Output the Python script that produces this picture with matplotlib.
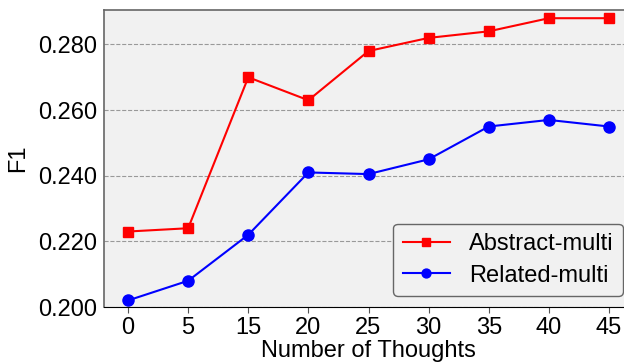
import matplotlib
matplotlib.use("Agg")
import matplotlib.pyplot as plt
import numpy as np

plt.rcParams['font.family'] = ['Liberation Sans', 'DejaVu Sans']

thoughts = ['0', '5', '15', '20', '25', '30', '35', '40', '45']
abstract_multi = [0.223, 0.224, 0.270, 0.263, 0.278, 0.282, 0.284, 0.288, 0.288]
related_multi = [0.202, 0.208, 0.222, 0.241, 0.2405, 0.245, 0.255, 0.257, 0.255]

fig = plt.figure(figsize=(6.24, 3.63), dpi=100)
# axes runs a bit past the right edge like the original crop
ax = fig.add_axes([104 / 624, 56 / 363, 529 / 624, 297 / 363])
ax.set_facecolor('#f1f1f1')

x = np.arange(len(thoughts))
ax.plot(x, abstract_multi, color='red', marker='s', markersize=7.8,
        linewidth=1.5, label='Abstract-multi')
ax.plot(x, related_multi, color='blue', marker='o', markersize=8,
        linewidth=1.5, label='Related-multi')

ax.set_xticks(x)
ax.set_xticklabels(thoughts)
ax.set_xlim(-0.4, 8.4)
ax.set_ylim(0.2, 0.2905)
ax.set_yticks([0.200, 0.220, 0.240, 0.260, 0.280])
ax.set_yticklabels(['0.200', '0.220', '0.240', '0.260', '0.280'])
ax.yaxis.grid(True, linestyle='--', color='#999999', linewidth=0.8)
ax.set_axisbelow(True)
ax.tick_params(labelsize=17)
ax.tick_params(axis='x', length=4, color='#555555', pad=3)
ax.tick_params(axis='y', length=0, pad=5)

for side in ['left', 'top']:
    ax.spines[side].set_color('#666666')
    ax.spines[side].set_linewidth(1.2)
ax.spines['right'].set_visible(False)
ax.spines['bottom'].set_color('black')

ax.set_xlabel('Number of Thoughts', fontsize=17, labelpad=1)
ax.set_ylabel('F1', fontsize=17, labelpad=6)

leg = ax.legend(loc='lower right', bbox_to_anchor=(0.981, 0.037), borderaxespad=0,
                fontsize=17, facecolor='#f1f1f1', edgecolor='#666666',
                framealpha=1, handlelength=2.0, markerscale=0.8, borderpad=0.4,
                labelspacing=0.4, handletextpad=0.8)

fig.savefig('out.png', dpi=100)
